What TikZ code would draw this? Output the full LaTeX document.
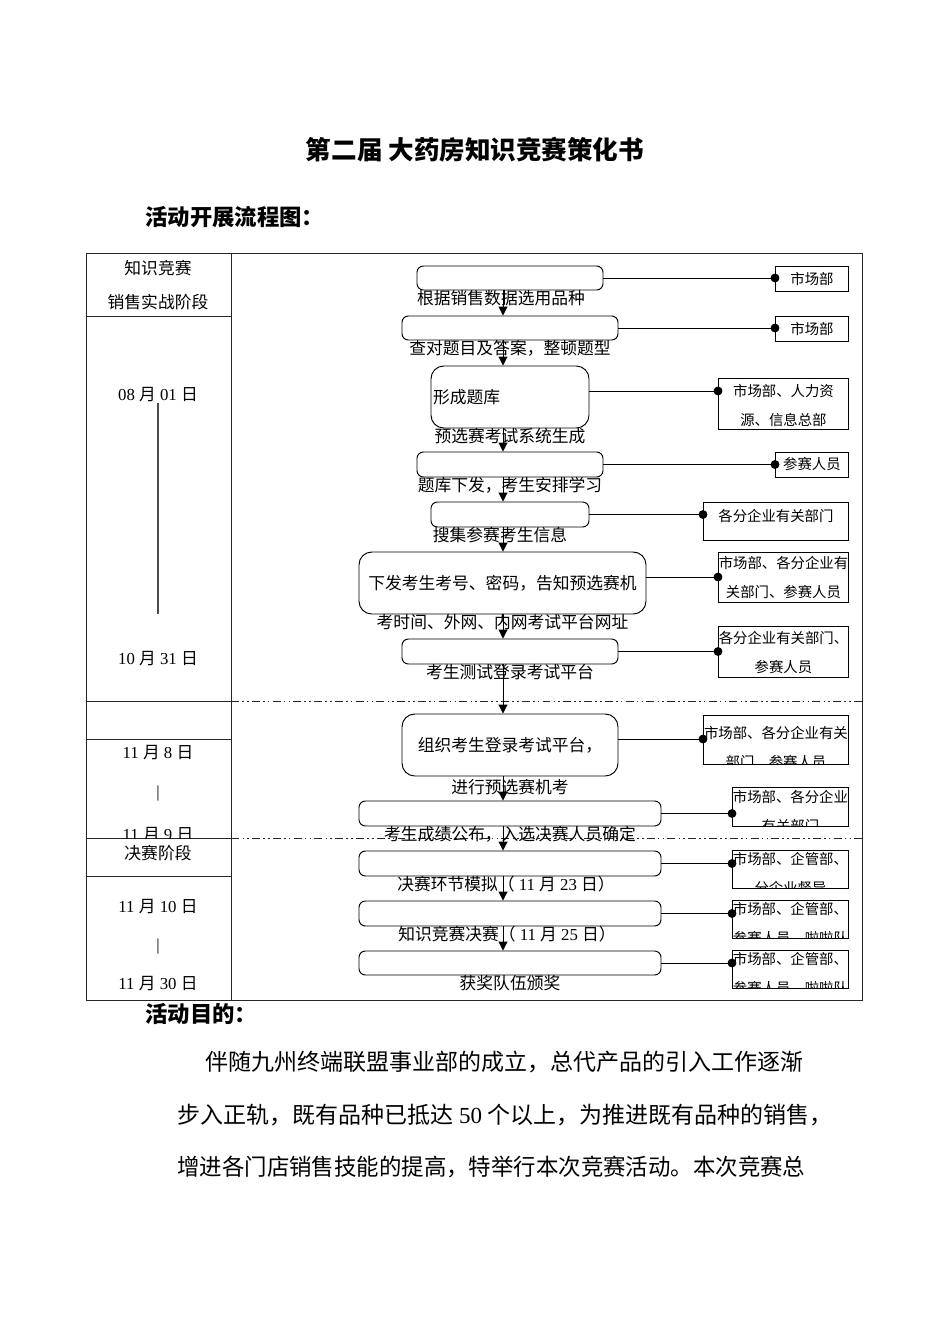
\documentclass[tikz,border=0pt]{standalone}
\usepackage{fontspec}
\setmainfont{Noto Sans CJK SC}
\newfontfamily\tnr{Liberation Serif}
\usetikzlibrary{arrows.meta,positioning}

\newcommand\px{0.626pt}
\newcommand\tn[1]{{\tnr\ #1\ }}
% side box: name, left x, top y, width, height, first line offset, line 1, line 2
\newcommand\sidebox[8]{%
  \node[sbox, minimum width=#4*\px, minimum height=#5*\px] (#1) at (#2,#3) {};
  \begin{scope}
    \clip (#1.south west) rectangle (#1.north east);
    \node[stxt] (#1a) at ([yshift=-#6*\px]#1.north) {#7};
    \node[stxt] (#1b) at ([yshift=-#6*\px-29*\px]#1.north) {#8};
  \end{scope}}

\begin{document}
\begin{tikzpicture}[x=0.626pt, y=-0.626pt,
    rule/.style={line width=0.6pt, black!85},
    dashdot/.style={line width=0.6pt, black!85, dash pattern=on 5pt off 2pt on 1pt off 2pt on 1pt off 2pt},
    mbox/.style={draw, line width=0.6pt, rounded corners=4pt, inner sep=0pt,
      font=\fontsize{10.5pt}{12.6pt}\selectfont},
    tall/.style={mbox, rounded corners=8pt},
    lbl/.style={inner sep=0pt, text height=0.85em, text depth=0.15em,
      font=\fontsize{10.5pt}{12.6pt}\selectfont},
    col/.style={inner sep=0pt, font=\fontsize{10.5pt}{12.6pt}\selectfont},
    sbox/.style={draw, line width=0.6pt, anchor=north west, inner sep=0pt},
    stxt/.style={inner sep=0pt, font=\fontsize{9pt}{10pt}\selectfont},
    flow/.style={line width=0.6pt, -{Triangle[length=5.5pt, width=5.5pt]}},
    link/.style={line width=0.6pt, -{Circle[length=5.5pt]}, shorten >=-2.75pt},
    body/.style={inner sep=0pt, anchor=west, font=\fontsize{14.4pt}{16pt}\selectfont}]

  \fill[white] (0,0) rectangle (950,1344);

  % headings
  \node[inner sep=0pt, font=\fontsize{16pt}{18pt}\selectfont\bfseries] (title) at (475,150)
    {第二届 大药房知识竞赛策化书};
  \node[inner sep=0pt, anchor=west, font=\fontsize{14pt}{16pt}\selectfont\bfseries] (flowhead) at (145,217)
    {活动开展流程图：};

  % table frame
  \draw[rule] (86,253) rectangle (862,1000);
  \draw[rule] (231,253) -- (231,1000);
  \foreach \y in {316,701,739,838,876}
    \draw[rule] (86,\y) -- (231,\y);
  \draw[dashdot] (231,701) -- (862,701);
  \draw[dashdot] (86,838) -- (862,838);

  % left column
  \node[col] (k1) at (158,268) {知识竞赛};
  \node[col] (k2) at (158,302) {销售实战阶段};
  \node[col] (d1) at (158,395) {{\tnr 08\ }月\tn{01}日};
  \node[col] (d2) at (158,659) {{\tnr 10\ }月\tn{31}日};
  \draw[line width=0.9pt, black!70] (d1.south) -- ++(0,211);
  \node[col] (d3) at (158,753) {{\tnr 11\ }月\tn{8}日};
  \node[col, font=\tnr\fontsize{10.5pt}{12pt}\selectfont] (b1) at (158,793) {|};
  \begin{scope}
    \clip (86,739) rectangle (231,838);
    \node[col] (d4) at (158,835) {{\tnr 11\ }月\tn{9}日};
  \end{scope}
  \node[col] (k3) at (158,853) {决赛阶段};
  \node[col] (d5) at (158,907) {{\tnr 11\ }月\tn{10}日};
  \node[col, font=\tnr\fontsize{10.5pt}{12pt}\selectfont] (b2) at (158,946) {|};
  \node[col] (d6) at (158,984) {{\tnr 11\ }月\tn{30}日};

  % main flow
  \coordinate (axis) at (503,0);
  \node[mbox, minimum width=186*\px, minimum height=24*\px] (m1) at (510,278) {};
  \node[mbox, minimum width=216*\px, minimum height=24*\px] (m2) at (510,328) {};
  \node[tall, minimum height=62*\px, text width=154*\px, inner xsep=2*\px, align=left] (m3) at (510,397) {形成题库};
  \node[mbox, minimum width=186*\px, minimum height=25*\px] (m4) at (510,464.5) {};
  \node[mbox, minimum width=158*\px, minimum height=25*\px] (m5) at (510,514.5) {};
  \node[tall, minimum width=287*\px, minimum height=62*\px] (m6) at (502.5,583) {下发考生考号、密码，告知预选赛机};
  \node[mbox, minimum width=216*\px, minimum height=25*\px] (m7) at (510,651.5) {};
  \node[tall, minimum width=216*\px, minimum height=62*\px] (m8) at (510,745) {组织考生登录考试平台，};
  \node[mbox, minimum width=302*\px, minimum height=25*\px] (m9) at (510,813.5) {};
  \node[mbox, minimum width=302*\px, minimum height=25*\px] (m10) at (510,863.5) {};
  \node[mbox, minimum width=302*\px, minimum height=25*\px] (m11) at (510,913.5) {};
  \node[mbox, minimum width=302*\px, minimum height=24*\px] (m12) at (510,963) {};

  \node[lbl, below=0pt of m1, xshift=-9*\px] (l1) {根据销售数据选用品种};
  \node[lbl, below=0pt of m2] (l2) {查对题目及答案，整顿题型};
  \node[lbl, below=0pt of m3] (l3) {预选赛考试系统生成};
  \node[lbl, below=0pt of m4] (l4) {题库下发，考生安排学习};
  \node[lbl, below=0pt of m5, xshift=-10*\px] (l5) {搜集参赛考生信息};
  \node[lbl, below=0pt of m6] (l6) {考时间、外网、内网考试平台网址};
  \node[lbl, below=0pt of m7] (l7) {考生测试登录考试平台};
  \node[lbl, below=3*\px of m8] (l8) {进行预选赛机考};
  \node[lbl, below=0pt of m9] (l9) {考生成绩公布，入选决赛人员确定};
  \node[lbl, below=0pt of m10, xshift=-4*\px] (l10) {决赛环节模拟（\tn{11}月\tn{23}日）};
  \node[lbl, below=0pt of m11, xshift=-3*\px] (l11) {知识竞赛决赛（\tn{11}月\tn{25}日）};
  \node[lbl, below=0pt of m12] (l12) {获奖队伍颁奖};

  \foreach \a/\b in {1/2,2/3,3/4,4/5,5/6,6/7,7/8,8/9,9/10,10/11,11/12}
    \draw[flow] (m\a.south -| axis) -- (m\b.north -| axis);

  % departments in charge
  \sidebox{s1}{775}{266}{73}{25}{12.5}{市场部}{}
  \sidebox{s2}{775}{316}{73}{25}{12.5}{市场部}{}
  \sidebox{s3}{718}{378}{130}{51}{13}{市场部、人力资}{源、信息总部}
  \sidebox{s4}{775}{452}{73}{25}{12.5}{参赛人员}{}
  \sidebox{s5}{703}{502}{145}{38}{14}{各分企业有关部门}{}
  \sidebox{s6}{718}{552}{130}{50}{11}{市场部、各分企业有}{关部门、参赛人员}
  \sidebox{s7}{718}{626}{130}{51}{12}{各分企业有关部门、}{参赛人员}
  \sidebox{s8}{703}{715}{145}{49}{18}{市场部、各分企业有关}{部门、参赛人员}
  \sidebox{s9}{732}{787}{116}{39}{10}{市场部、各分企业}{有关部门}
  \sidebox{s10}{732}{850}{116}{38}{9}{市场部、企管部、}{分企业督导}
  \sidebox{s11}{732}{900}{116}{38}{9}{市场部、企管部、}{参赛人员、啦啦队}
  \sidebox{s12}{732}{950}{116}{38}{9}{市场部、企管部、}{参赛人员、啦啦队}

  \foreach \m/\d in {1/0,2/0,3/6,4/0,5/0,6/6,7/0,8/6,9/0,10/0,11/0,12/0} {
    \coordinate (c\m) at ([yshift=\d*\px]m\m.east);
    \draw[link] (c\m) -- (c\m -| s\m.west);
  }

  % purpose
  \node[inner sep=0pt, anchor=west, font=\fontsize{14pt}{16pt}\selectfont\bfseries] (aimhead) at (145,1014)
    {活动目的：};
  \node[body] (p1) at (205,1062) {伴随九州终端联盟事业部的成立，总代产品的引入工作逐渐};
  \node[body] (p2) at (177,1115) {步入正轨，既有品种已抵达\tn{50}个以上，为推进既有品种的销售，};
  \node[body, xscale=0.975] (p3) at (177,1167) {增进各门店销售技能的提高，特举行本次竞赛活动。本次竞赛总};
\end{tikzpicture}
\end{document}
